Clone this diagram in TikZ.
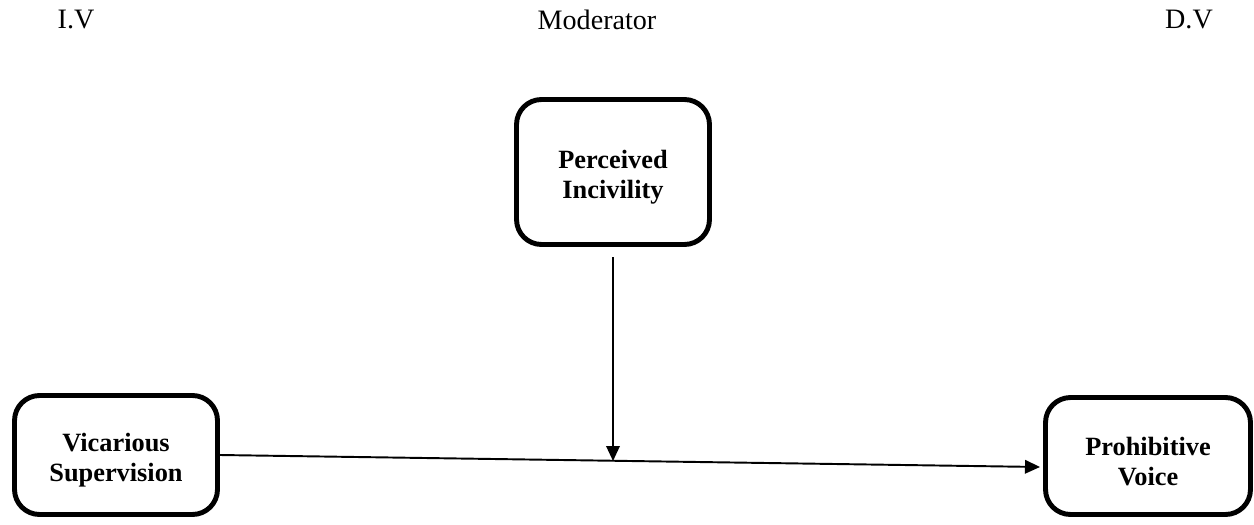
\documentclass[tikz,border=0pt]{standalone}
\usepackage{fontspec}
\setmainfont{Liberation Serif}
\usetikzlibrary{arrows.meta}
\newcommand{\topgap}{\rule{0pt}{16.5pt}}
\tikzset{
	var/.style={draw, line width=2.8pt, rounded corners=0.5cm, align=center,
		font=\fontsize{15}{17}\selectfont\bfseries, inner sep=0pt},
	head/.style={font=\fontsize{16}{19}\selectfont, anchor=base},
	link/.style={line width=1.1pt, -{Triangle[length=3mm,width=2.7mm]}}
}

\begin{document}
\begin{tikzpicture}[x=0.02cm, y=-0.02cm]
			\useasboundingbox (0,0) rectangle (1254,524);
			\node[head] (iv) at (76,29) {I.V};
			\node[head] (mod) at (597,30) {Moderator};
			\node[head] (dv) at (1189,29) {D.V};
			\node[var, minimum width=3.86cm, minimum height=2.9cm] (pi) at (613,172) {\topgap Perceived\\Incivility};
			\node[var, minimum width=4.06cm, minimum height=2.38cm] (vs) at (116,455) {\topgap Vicarious\\Supervision};
			\node[var, minimum width=4.1cm, minimum height=2.34cm] (pv) at (1148,456) {\topgap Prohibitive\\Voice};
			\coordinate (tip) at (1040,467);
			\coordinate (meet) at (613,461);
			\draw[link] (vs.east) -- (tip);
			\draw[link, shorten <=6pt] (pi.south) -- (meet);
		\end{tikzpicture}
\end{document}
